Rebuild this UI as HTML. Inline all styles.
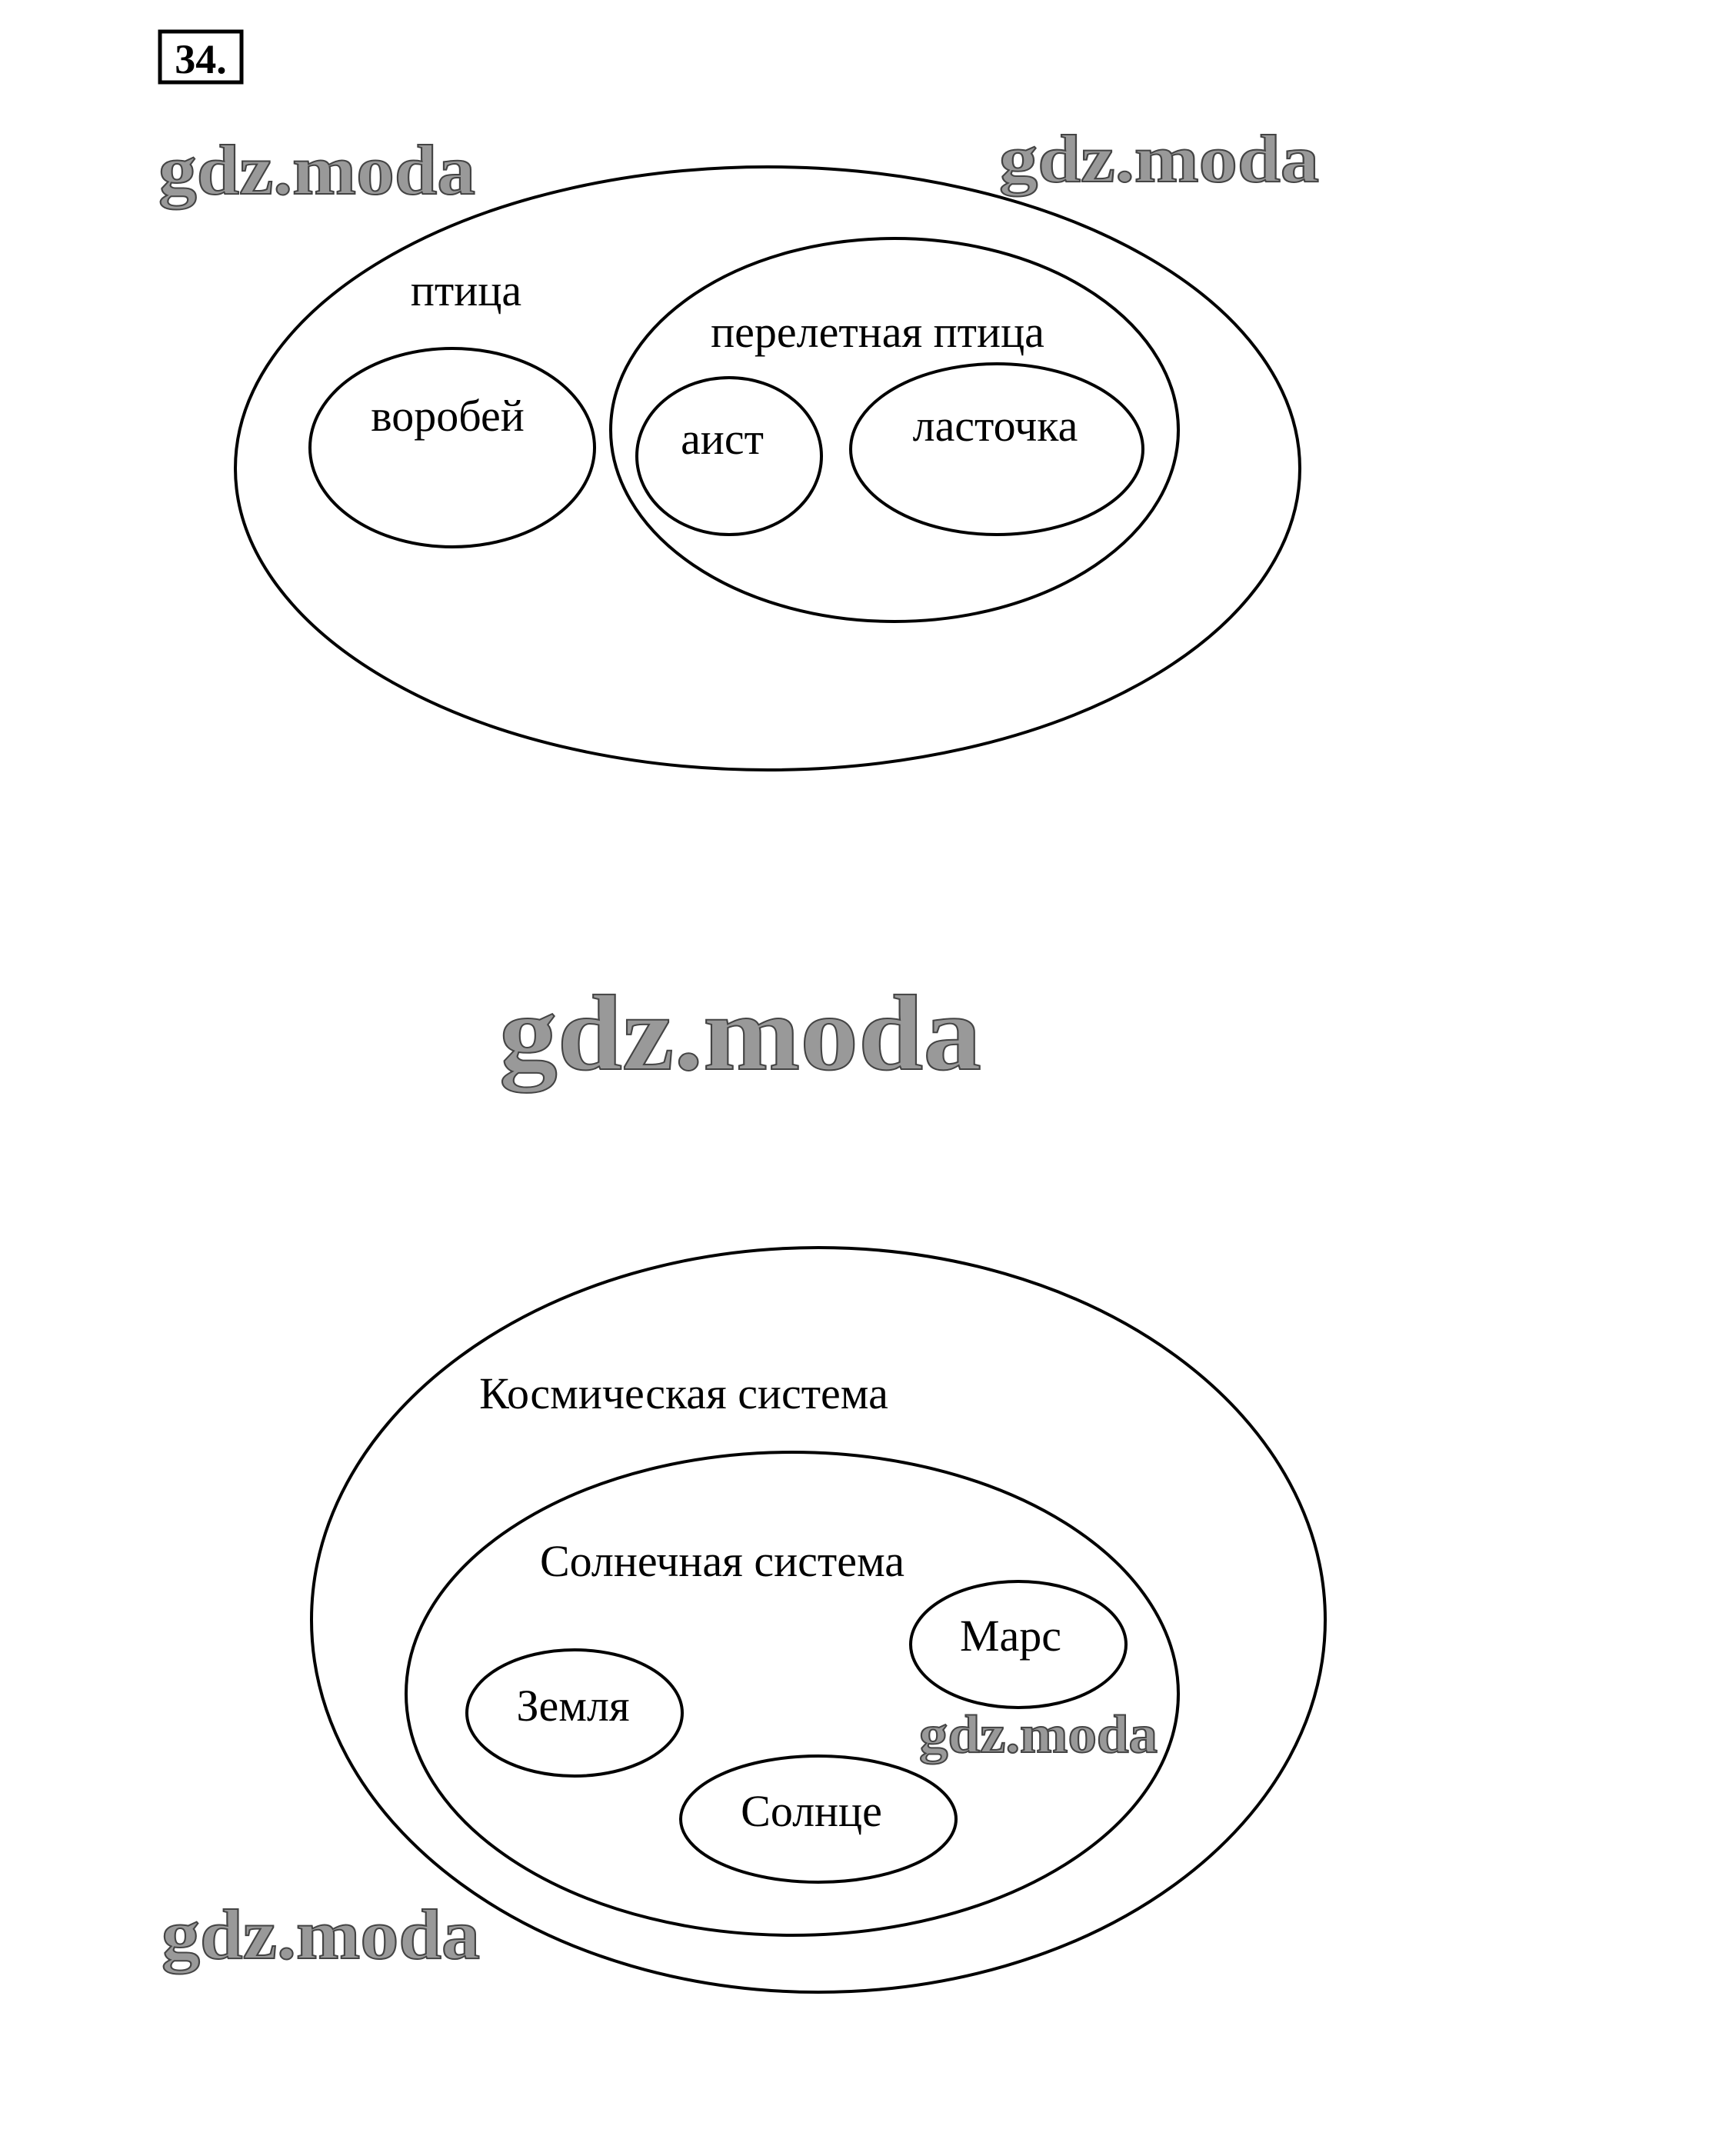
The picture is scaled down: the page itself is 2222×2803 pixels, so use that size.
<!DOCTYPE html>
<html><head><meta charset="utf-8"><style>
html,body{margin:0;padding:0;background:#fff}
svg{display:block}
.t{font-family:"Liberation Serif",serif;font-size:58px;fill:#000;text-anchor:middle}
.w{font-family:"Liberation Serif",serif;font-weight:bold;fill:#999;stroke:#444;stroke-width:2;text-anchor:start}
</style></head><body>
<svg width="2222" height="2803" viewBox="0 0 2222 2803" xmlns="http://www.w3.org/2000/svg">
<rect x="208" y="41" width="106" height="66" fill="none" stroke="#000" stroke-width="5"/>
<text x="261" y="95" style="font-family:'Liberation Serif',serif;font-weight:bold;font-size:54px;text-anchor:middle">34.</text>
<g fill="none" stroke="#000" stroke-width="4">
<ellipse cx="998" cy="609" rx="692" ry="392"/>
<ellipse cx="1163" cy="559" rx="369" ry="249"/>
<ellipse cx="588" cy="582" rx="185" ry="129"/>
<ellipse cx="948" cy="593" rx="120" ry="102"/>
<ellipse cx="1296" cy="584" rx="190" ry="111"/>
<ellipse cx="1064" cy="2106" rx="659" ry="484"/>
<ellipse cx="1030" cy="2202" rx="502" ry="314"/>
<ellipse cx="1324" cy="2138" rx="140" ry="82"/>
<ellipse cx="747" cy="2227" rx="140" ry="82"/>
<ellipse cx="1064" cy="2365" rx="179" ry="82"/>
</g>
<text class="t" x="606" y="397">птица</text>
<text class="t" x="1141" y="451">перелетная птица</text>
<text class="t" x="582" y="560">воробей</text>
<text class="t" x="939" y="590">аист</text>
<text class="t" x="1294" y="573">ласточка</text>
<text class="t" x="889" y="1831">Космическая система</text>
<text class="t" x="939" y="2049">Солнечная система</text>
<text class="t" x="1314" y="2146">Марс</text>
<text class="t" x="745" y="2237">Земля</text>
<text class="t" x="1055" y="2374">Солнце</text>
<text class="w" x="206" y="252" font-size="92" textLength="412" lengthAdjust="spacingAndGlyphs">gdz.moda</text>
<text class="w" x="1299" y="236" font-size="88" textLength="416" lengthAdjust="spacingAndGlyphs">gdz.moda</text>
<text class="w" x="649" y="1390" font-size="140" textLength="627" lengthAdjust="spacingAndGlyphs">gdz.moda</text>
<text class="w" x="1195" y="2278" font-size="70" textLength="310" lengthAdjust="spacingAndGlyphs">gdz.moda</text>
<text class="w" x="210" y="2546" font-size="92" textLength="414" lengthAdjust="spacingAndGlyphs">gdz.moda</text>
</svg>
</body></html>
